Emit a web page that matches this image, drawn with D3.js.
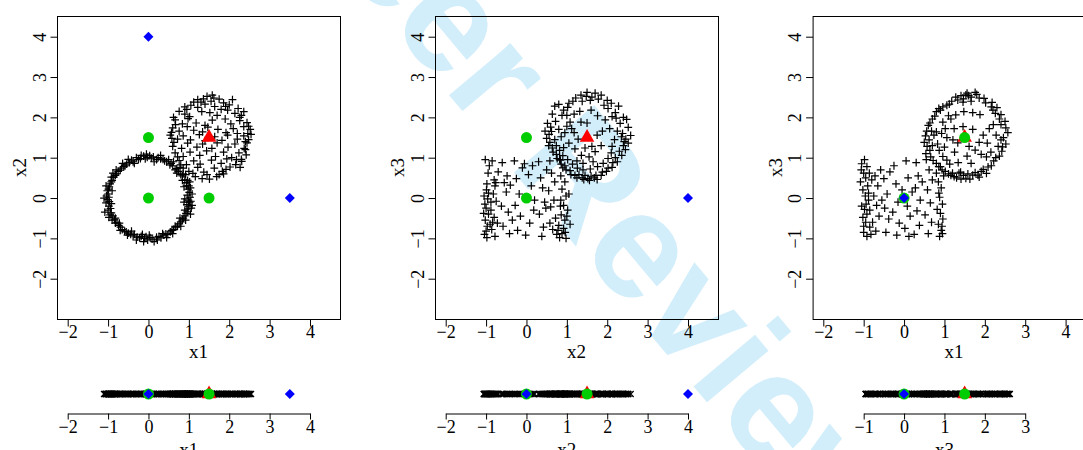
<!DOCTYPE html>
<html>
<head>
<meta charset="utf-8">
<script src="https://cdn.jsdelivr.net/npm/d3@7"></script>
<style>
  body { margin: 0; background: #fff; }
  svg { display: block; background: #fff; }
  text { font-family: "Liberation Serif", "Times New Roman", serif; fill: #000; }
  .tick text { font-size: 18px; }
  .label { font-size: 19px; }
  .stamp { font-family: "Liberation Sans", Arial, sans-serif; font-weight: bold; font-size: 152px; fill: #d3eefb; }
</style>
</head>
<body>
<svg width="1083" height="450"></svg>
<script>

// **** data ****

// panel 1: x1 vs x2, ring around the origin
var ringA_x1x2 = [
  [1.03,0.02],[0.96,0.07],[1.01,0.14],[0.98,0.22],[1.04,0.25],[0.94,0.30],[0.95,0.38],[0.90,0.45],[0.97,0.44],
  [0.84,0.55],[0.80,0.58],[0.86,0.60],[0.74,0.66],[0.70,0.73],[0.66,0.70],[0.60,0.80],[0.56,0.86],[0.53,0.82],
  [0.45,0.90],[0.40,0.92],[0.36,0.96],[0.30,0.97],[0.24,1.00],[0.20,0.95],[0.12,1.02],[0.07,0.99],[0.03,1.05],
  [-0.03,1.01],[-0.08,0.97],[-0.12,1.04],[-0.20,0.98],[-0.25,0.95],[-0.30,1.00],[-0.38,0.90],[-0.42,0.94],[-0.47,0.88],
  [-0.54,0.84],[-0.58,0.80],[-0.61,0.78],[-0.67,0.74],[-0.70,0.69],[-0.75,0.66],[-0.79,0.60],[-0.82,0.56],[-0.86,0.52],
  [-0.90,0.44],[-0.92,0.40],[-0.95,0.35],[-0.97,0.28],[-0.99,0.22],[-1.02,0.18],[-1.00,0.10],[-1.04,0.05],[-0.98,0.02],
  [-1.01,-0.04],[-0.97,-0.09],[-1.05,-0.12],[-0.98,-0.20],[-0.94,-0.26],[-1.00,-0.30],[-0.92,-0.37],[-0.88,-0.44],[-0.95,-0.42],
  [-0.84,-0.54],[-0.78,-0.60],[-0.82,-0.62],[-0.74,-0.68],[-0.69,-0.72],[-0.65,-0.78],[-0.59,-0.82],[-0.55,-0.84],[-0.50,-0.87],
  [-0.44,-0.90],[-0.38,-0.94],[-0.35,-0.90],[-0.28,-0.97],[-0.22,-0.99],[-0.18,-0.95],[-0.10,-1.00],[-0.06,-0.96],[-0.02,-1.04],
  [0.04,-0.98],[0.09,-1.02],[0.14,-1.08],[0.20,-0.97],[0.26,-0.95],[0.31,-0.99],[0.38,-0.92],[0.43,-0.89],[0.48,-0.90],
  [0.54,-0.84],[0.58,-0.80],[0.62,-0.78],[0.68,-0.72],[0.72,-0.70],[0.76,-0.64],[0.80,-0.59],[0.84,-0.54],[0.86,-0.50],
  [0.90,-0.44],[0.93,-0.38],[0.96,-0.34],[0.98,-0.27],[1.00,-0.20],[0.95,-0.16],[1.02,-0.10],[0.99,-0.05],[1.05,-0.08],
  [1.08,0.10],[0.90,-0.02],[1.06,-0.25],[0.88,0.28],[1.02,0.40],[0.92,0.58],[0.78,0.76],[0.62,0.90],[0.50,0.95],
  [0.30,1.06],[0.14,0.90],[-0.05,1.09],[-0.18,1.06],[-0.35,0.86],[-0.50,0.96],[-0.64,0.86],[-0.80,0.70],[-0.88,0.62],
  [-0.92,0.52],[-1.05,0.30],[-0.90,0.18],[-1.10,0.00],[-0.92,-0.14],[-1.08,-0.35],[-0.98,-0.48],[-0.82,-0.50],[-0.90,-0.55],
  [-0.72,-0.62],[-0.70,-0.80],[-0.52,-0.92],[-0.42,-0.82],[-0.30,-1.04],[-0.12,-1.08],[-0.15,-0.90],[0.02,-0.92],[0.22,-1.04],
  [0.35,-0.88],[0.45,-0.98],[0.60,-0.88],[0.66,-0.70],[0.80,-0.70],[0.92,-0.55],[0.78,-0.50],[1.04,-0.40],[0.90,-0.30],
  [1.08,-0.18],[0.88,-0.10],[1.00,0.30],[0.84,0.44],[0.70,0.62]
];

// panel 1: the second group, seen side on
var ringB_x1x2 = [
  [1.45,2.52],[1.62,2.48],[1.55,2.40],[1.30,2.38],[1.75,2.45],
  [1.05,2.30],[1.22,2.25],[1.40,2.33],[1.64,2.27],[1.86,2.36],[2.08,2.44],[2.22,2.22],[0.95,2.20],
  [0.76,2.15],[0.90,2.08],[1.02,2.02],[1.32,2.14],[1.52,2.12],[1.70,2.05],[1.96,2.18],[2.14,2.10],[2.36,2.14],[2.26,2.00],
  [0.66,1.94],[0.84,1.84],[0.98,1.97],[1.18,1.86],[1.40,1.80],[1.58,1.93],[1.90,1.96],[2.04,1.84],[2.26,1.92],[2.44,1.87],
  [0.60,1.74],[0.76,1.66],[0.96,1.77],[1.12,1.68],[1.34,1.64],[1.47,1.76],[1.72,1.70],[1.92,1.62],[2.10,1.72],[2.36,1.77],[2.52,1.70],[2.46,1.60],
  [0.54,1.56],[0.72,1.46],[0.86,1.54],[1.04,1.44],[1.26,1.57],[1.40,1.42],[1.64,1.52],[1.82,1.43],[1.96,1.56],[2.20,1.46],[2.36,1.54],[0.63,1.38],
  [0.60,1.28],[0.82,1.23],[0.97,1.36],[1.20,1.26],[1.34,1.34],[1.57,1.23],[1.70,1.37],[1.97,1.26],[2.14,1.34],[2.37,1.23],[2.44,1.37],
  [0.66,1.12],[0.86,1.03],[1.03,1.14],[1.27,1.06],[1.44,1.17],[1.66,1.03],[1.86,1.14],[2.06,1.00],[2.24,1.12],[2.42,1.07],[2.30,0.96],
  [0.76,0.93],[0.94,0.83],[1.12,0.92],[1.28,0.84],[1.56,0.94],[1.80,0.86],[1.94,0.97],[2.16,0.83],[2.27,0.76],
  [0.86,0.74],[1.00,0.66],[1.22,0.76],[1.37,0.64],[1.63,0.74],[1.83,0.66],[2.02,0.77],
  [1.16,0.53],[1.33,0.48],[1.51,0.47],[1.69,0.53],[1.86,0.60],
  [2.40,1.40],[2.48,1.45],[2.54,1.58],[0.57,1.63],[0.67,1.82],[1.22,2.44],[1.91,2.27],[2.00,2.31],[1.10,0.61],[1.92,0.71],[2.31,0.91],[0.72,1.02],
  [1.36,2.46],[1.58,2.55],[1.12,2.38],[2.30,2.05],[2.48,1.78],[2.40,1.20],[2.18,0.95],[1.75,0.58],[1.45,0.58],[0.80,0.82],
  [0.58,1.48],[0.62,2.00],[0.90,2.26],[1.80,2.20],[2.20,1.60]
];

// panel 2: x2 vs x3
var ringA_x2x3 = [
  [-1.02,0.95],[-0.95,0.62],[-0.98,0.35],[-1.05,0.05],[-0.96,-0.02],[-1.00,-0.25],[-0.94,-0.40],[-1.02,-0.55],[-0.97,-0.70],
  [-1.00,-0.82],[-0.98,-0.98],[-0.92,0.80],[-0.99,0.20],[-1.03,-0.15],[-1.06,-0.38],[-0.94,0.12],[-1.04,-0.90],[-0.90,-0.65],
  [-0.85,0.92],[-0.80,0.45],[-0.78,0.30],[-0.82,0.10],[-0.75,-0.08],[-0.88,-0.30],[-0.80,-0.48],[-0.72,-0.62],[-0.86,-0.78],
  [-0.78,-0.95],[-0.70,0.65],[-0.84,-0.60],[-0.76,0.38],[-0.88,-0.10],
  [-0.60,0.88],[-0.55,0.38],[-0.50,0.15],[-0.62,-0.20],[-0.45,-0.35],[-0.58,-0.70],[-0.42,-0.88],[-0.48,0.55],[-0.40,0.32],
  [-0.30,0.92],[-0.25,0.48],[-0.18,0.10],[-0.28,-0.18],[-0.15,-0.45],[-0.22,-0.80],[-0.10,0.75],[-0.35,-0.55],
  [-0.05,0.85],[0.05,0.58],[0.12,0.30],[0.18,-0.30],[0.08,-0.62],[-0.02,-0.92],[0.15,0.80],[0.20,-0.05],
  [0.30,0.90],[0.35,0.50],[0.40,0.25],[0.45,-0.10],[0.32,-0.40],[0.42,-0.72],[0.38,-0.95],[0.50,0.70],[0.48,-0.25],
  [0.58,0.92],[0.62,0.62],[0.70,0.40],[0.55,0.18],[0.68,-0.05],[0.60,-0.22],[0.72,-0.50],[0.65,-0.78],[0.75,-0.90],[0.58,-0.62],
  [0.82,0.95],[0.90,0.75],[0.85,0.55],[0.95,0.40],[0.88,0.22],[0.98,0.05],[0.85,-0.05],[0.92,-0.18],[1.02,-0.30],
  [0.86,-0.42],[0.95,-0.55],[0.80,-0.68],[0.92,-0.75],[0.88,-0.88],[0.98,-1.00],[1.08,-0.65],[0.82,-0.98],[1.05,0.10],
  [0.78,-0.80],[0.96,-0.85],[0.84,-0.20],[1.00,-0.45]
];

var ringB_x2x3 = [
  [2.58,1.55],[2.42,1.40],[2.52,1.75],[2.38,1.60],[2.48,1.95],[2.32,1.85],[2.40,2.00],[2.22,1.98],[2.28,2.28],[2.20,2.12],
  [2.10,2.35],[2.02,2.22],[2.00,2.42],[1.92,2.30],[1.85,2.55],[1.78,2.45],[1.70,2.60],[1.62,2.50],[1.50,2.62],[1.48,2.52],
  [1.58,2.42],[1.35,2.55],[1.38,2.40],[1.22,2.48],[1.15,2.40],[1.05,2.35],[1.02,2.25],[0.92,2.18],[0.80,2.32],[0.70,2.28],
  [0.88,2.05],[0.64,2.08],[0.72,1.90],[0.52,1.85],[0.60,1.76],[0.46,1.66],[0.56,1.58],[0.50,1.48],[0.58,1.38],[0.55,1.30],
  [0.64,1.24],[0.66,1.14],[0.74,1.08],[0.76,0.98],[0.84,0.94],[0.86,0.84],[0.95,0.80],[0.98,0.70],[1.08,0.68],[1.10,0.58],
  [1.20,0.56],[1.25,0.50],[1.30,0.58],[1.38,0.50],[1.42,0.46],[1.45,0.56],[1.52,0.48],[1.56,0.44],[1.60,0.54],
  [1.68,0.50],[1.72,0.56],[1.75,0.46],[1.85,0.56],[1.88,0.64],[1.98,0.66],[2.02,0.74],[2.12,0.76],[2.14,0.88],[2.25,0.90],
  [2.20,1.00],[2.36,1.06],[2.30,1.16],[2.45,1.20],[2.40,1.30],[2.52,1.36],[2.46,1.46],
  [0.62,1.65],[0.70,1.45],[0.74,1.30],[0.82,1.18],[0.90,1.05],[1.02,0.95],[1.14,0.84],[1.26,0.74],[1.40,0.70],[1.58,0.72],
  [1.76,0.78],[1.90,0.86],[2.02,0.98],[2.10,1.12],[2.12,1.28],[1.08,1.88],[1.18,2.08],[1.32,2.15],[1.60,2.18],[1.76,2.04],
  [1.95,1.94],[2.06,1.72],[0.95,1.62],[1.05,1.36],[1.20,1.22],[1.36,1.06],[1.55,1.02],[1.70,1.15],[1.85,1.30],[1.62,1.28],
  [1.45,1.24],[1.28,1.46],[1.18,1.62],[1.75,1.56],[1.88,1.66],[1.00,1.78],[0.86,1.52],[2.18,1.45],[2.25,1.66],[1.50,1.86],
  [1.00,2.05],[1.12,1.72],[0.80,1.70],[1.35,1.88],[2.12,2.02],[2.35,1.52],[1.65,0.90],[1.40,0.86],[0.92,1.25],[1.25,0.92]
];

// panel 3: x1 vs x3
var ringA_x1x3 = [
  [-1.05,0.85],[-0.98,0.95],[-0.92,0.78],[-1.00,0.62],[-0.95,0.50],[-1.08,0.40],[-0.90,0.30],[-1.02,0.20],[-0.96,0.05],
  [-0.88,-0.05],[-1.05,-0.20],[-0.98,-0.28],[-0.92,-0.40],[-1.02,-0.48],[-0.95,-0.60],[-0.85,-0.72],[-1.00,-0.85],
  [-0.92,-0.95],[-0.82,-0.90],[-0.88,0.12],[-0.80,0.45],[-0.85,-0.30],[-1.06,0.70],[-0.94,-0.15],[-0.86,0.62],[-1.00,-0.70],
  [-0.72,0.55],[-0.65,0.30],[-0.75,0.05],[-0.68,-0.18],[-0.62,-0.45],[-0.70,-0.82],[-0.58,0.70],[-0.78,-0.60],
  [-0.50,0.48],[-0.42,0.10],[-0.48,-0.25],[-0.38,-0.52],[-0.45,-0.85],[-0.35,0.65],[-0.55,-0.05],
  [-0.25,0.80],[-0.20,0.35],[-0.15,-0.10],[-0.28,-0.35],[-0.12,-0.62],[-0.18,-0.92],[-0.05,0.20],
  [0.05,0.92],[0.10,0.50],[0.08,-0.20],[0.15,-0.45],[0.02,-0.75],[0.20,0.15],[0.12,-0.95],
  [0.30,0.88],[0.35,0.55],[0.28,0.25],[0.40,-0.05],[0.32,-0.32],[0.38,-0.68],[0.45,0.40],[0.25,-0.90],
  [0.55,0.95],[0.62,0.70],[0.58,0.20],[0.65,-0.12],[0.52,-0.42],[0.68,-0.60],[0.60,-0.88],[0.70,0.45],
  [0.80,0.62],[0.85,0.40],[0.92,0.25],[0.88,0.02],[0.95,-0.15],[0.82,-0.28],[0.90,-0.38],[0.96,-0.52],[0.85,-0.65],
  [0.92,-0.80],[0.95,-0.88],[0.88,-0.95],[0.98,0.55],[0.90,0.78],[0.94,-0.70],[0.86,0.12]
];

var ringB_x1x3 = [
  [2.57,1.62],[2.46,1.50],[2.52,1.74],[2.40,1.82],[2.50,1.90],[2.36,1.96],[2.40,2.07],[2.26,2.10],[2.30,2.24],[2.16,2.26],
  [2.18,2.37],[2.02,2.36],[1.98,2.47],[1.86,2.48],[1.80,2.57],[1.76,2.62],[1.66,2.50],[1.60,2.54],[1.53,2.56],[1.47,2.46],
  [1.41,2.54],[1.33,2.43],[1.28,2.50],[1.18,2.40],[1.12,2.33],[1.06,2.30],[0.96,2.26],[0.90,2.18],[0.80,2.14],[0.76,2.03],
  [0.70,1.96],[0.64,1.86],[0.60,1.80],[0.56,1.66],[0.53,1.54],[0.62,1.44],[0.50,1.38],[0.57,1.28],[0.64,1.18],[0.54,1.10],
  [0.66,1.02],[0.72,0.93],[0.80,0.86],[0.86,0.78],[0.94,0.70],[1.02,0.66],[1.10,0.60],[1.16,0.56],[1.24,0.53],[1.30,0.50],
  [1.36,0.62],[1.41,0.47],[1.47,0.56],[1.53,0.49],[1.58,0.60],[1.63,0.47],[1.70,0.57],[1.76,0.63],[1.83,0.57],[1.91,0.66],
  [1.96,0.71],[2.04,0.61],[2.08,0.77],[2.16,0.80],[2.22,0.92],[2.27,1.00],[2.36,1.04],[2.42,1.16],[2.44,1.27],[2.52,1.34],
  [2.40,1.44],[2.33,1.28],[1.46,2.38],[1.66,2.40],[1.40,0.64],[1.56,2.60],[1.20,0.62],[1.86,0.52],[2.20,2.18],[0.86,2.22],
  [0.74,1.56],[0.83,1.34],[0.87,1.18],[0.96,1.03],[1.06,0.94],[1.13,0.84],[0.80,1.64],[0.93,1.60],[1.06,1.50],[1.21,1.44],
  [1.33,1.37],[1.61,1.28],[1.76,1.19],[1.91,1.08],[2.04,1.02],[2.15,1.14],[2.06,1.36],[1.96,1.56],[2.11,1.72],[2.21,1.82],
  [1.88,2.07],[1.70,2.12],[1.48,2.14],[1.28,2.06],[1.10,2.04],[0.96,1.88],[1.24,1.72],[1.46,1.77],[1.70,1.70],[1.86,1.38],
  [1.56,1.04],[1.34,0.88],[1.66,0.86],[1.25,1.14],[2.28,1.56],[1.00,1.26],[0.68,1.66],[0.70,1.30],[1.02,1.72],[1.16,1.96]
];

// special points per panel
var redP1 = [[1.5,1.5]];
var greenP1 = [[0,1.5],[0,0],[1.5,0]];
var blueP1 = [[0,4],[3.5,0]];
var redP2 = [[1.5,1.5]];
var greenP2 = [[0,1.5],[0,0]];
var blueP2 = [[4,0]];
var redP3 = [[1.5,1.5]];
var greenP3 = [[1.5,1.5],[0,0]];
var blueP3 = [[0,0]];

// strips below each panel
var redS1 = [1.5], greenS1 = [0,1.5], blueS1 = [0,3.5];
var redS2 = [1.5], greenS2 = [0,1.5], blueS2 = [0,4];
var redS3 = [1.5], greenS3 = [0,1.5], blueS3 = [0];

var panelTicks = [-2,-1,0,1,2,3,4];
var stripTicks12 = [-2,-1,0,1,2,3,4];
var stripTicks3 = [-1,0,1,2,3];

var GREEN = "#00cd00", BLUE = "#0000ff", RED = "#ff0000";

var svg = d3.select("svg");
var fmt = d3.format("d");

// watermark behind the plots
svg.append("text")
  .attr("class", "stamp")
  .attr("transform", "translate(84,-340) rotate(50)")
  .text("For Peer Review");

function plus(g, pts, xs, ys) {
  g.selectAll(null).data(pts).enter().append("path")
    .attr("d", function(d) {
      var x = xs(d[0]), y = ys(d[1]);
      return "M" + (x - 3.9) + "," + y + "H" + (x + 3.9) + "M" + x + "," + (y - 3.9) + "V" + (y + 3.9);
    })
    .attr("stroke", "#000").attr("stroke-width", 1.2).attr("fill", "none");
}

function cross(g, vals, xs, y) {
  g.selectAll(null).data(vals).enter().append("path")
    .attr("d", function(d) {
      var x = xs(d), r = 3;
      return "M" + (x - r) + "," + (y - r) + "L" + (x + r) + "," + (y + r) + "M" + (x - r) + "," + (y + r) + "L" + (x + r) + "," + (y - r);
    })
    .attr("stroke", "#000").attr("stroke-width", 1.3).attr("fill", "none");
}

function specials(g, red, green, blue, px, py) {
  g.selectAll(null).data(red).enter().append("path")
    .attr("d", function(d) {
      var x = px(d), y = py(d);
      return "M" + x + "," + (y - 8.5) + "L" + (x + 7.3) + "," + (y + 4.3) + "L" + (x - 7.3) + "," + (y + 4.3) + "Z";
    })
    .attr("fill", RED);
  g.selectAll(null).data(green).enter().append("circle")
    .attr("cx", px).attr("cy", py).attr("r", 5.5).attr("fill", GREEN);
  g.selectAll(null).data(blue).enter().append("path")
    .attr("d", function(d) {
      var x = px(d), y = py(d), r = 5;
      return "M" + x + "," + (y - r) + "L" + (x + r) + "," + y + "L" + x + "," + (y + r) + "L" + (x - r) + "," + y + "Z";
    })
    .attr("fill", BLUE);
}

function panel(off, ringA, ringB, red, green, blue, xName, yName) {
  var xs = d3.scaleLinear().domain([-2, 4]).range([67.7 + off, 310 + off]);
  var ys = d3.scaleLinear().domain([-2, 4]).range([278.7, 36.7]);
  var g = svg.append("g");
  var left = 57 + off, right = 340 + off, top = 16, bottom = 319;

  plus(g, ringA, xs, ys);
  plus(g, ringB, xs, ys);
  specials(g, red, green, blue,
    function(d) { return xs(d[0]); }, function(d) { return ys(d[1]); });

  g.append("rect")
    .attr("x", left + 0.5).attr("y", top + 0.5)
    .attr("width", right - left).attr("height", bottom - top)
    .attr("fill", "none").attr("stroke", "#000").attr("stroke-width", 1);

  var xa = g.append("g").attr("transform", "translate(0," + (bottom + 0.5) + ")")
    .call(d3.axisBottom(xs).tickValues(panelTicks).tickFormat(fmt).tickSize(7).tickSizeOuter(0));
  xa.select(".domain").remove();
  xa.selectAll(".tick text").attr("y", 18).attr("dy", 0);

  var ya = g.append("g").attr("transform", "translate(" + (left + 0.5) + ",0)")
    .call(d3.axisLeft(ys).tickValues(panelTicks).tickFormat(fmt).tickSize(7).tickSizeOuter(0));
  ya.select(".domain").remove();
  ya.selectAll(".tick text")
    .attr("transform", "rotate(-90)")
    .attr("x", 0).attr("y", -12).attr("dy", 0)
    .attr("text-anchor", "middle");

  g.selectAll(".tick line").attr("stroke", "#000");

  g.append("text").attr("class", "label")
    .attr("x", (left + right) / 2).attr("y", 358)
    .attr("text-anchor", "middle").text(xName);
  g.append("text").attr("class", "label")
    .attr("transform", "translate(" + (left - 31) + "," + ((top + bottom) / 2) + ") rotate(-90)")
    .attr("text-anchor", "middle").text(yName);
}

function strip(off, vals, ticks, red, green, blue, name) {
  var xs = d3.scaleLinear().domain([-2, 4]).range([67.7 + off, 310 + off]);
  var axisScale = d3.scaleLinear().domain(d3.extent(ticks)).range([xs(ticks[0]), xs(ticks[ticks.length - 1])]);
  var g = svg.append("g");
  var yPts = 394, yAxis = 413;

  cross(g, vals, xs, yPts);
  specials(g, red, green, blue,
    function(d) { return xs(d); }, function() { return yPts; });

  var a = g.append("g").attr("transform", "translate(0," + (yAxis + 0.5) + ")")
    .call(d3.axisBottom(axisScale).tickValues(ticks).tickFormat(fmt).tickSize(6).tickSizeOuter(0));
  a.select(".domain").attr("stroke", "#000");
  a.selectAll(".tick line").attr("stroke", "#000");
  a.selectAll(".tick text").attr("y", 19).attr("dy", 0);

  g.append("text").attr("class", "label")
    .attr("x", axisScale(d3.mean(d3.extent(ticks)))).attr("y", 456)
    .attr("text-anchor", "middle").text(name);
}

panel(0, ringA_x1x2, ringB_x1x2, redP1, greenP1, blueP1, "x1", "x2");
panel(378, ringA_x2x3, ringB_x2x3, redP2, greenP2, blueP2, "x2", "x3");
panel(755.6, ringA_x1x3, ringB_x1x3, redP3, greenP3, blueP3, "x1", "x3");

strip(0, ringA_x1x2.concat(ringB_x1x2).map(function(d) { return d[0]; }), stripTicks12, redS1, greenS1, blueS1, "x1");
strip(378, ringA_x2x3.concat(ringB_x2x3).map(function(d) { return d[0]; }), stripTicks12, redS2, greenS2, blueS2, "x2");
strip(755.6, ringA_x1x3.concat(ringB_x1x3).map(function(d) { return d[1]; }), stripTicks3, redS3, greenS3, blueS3, "x3");

</script>
</body>
</html>
